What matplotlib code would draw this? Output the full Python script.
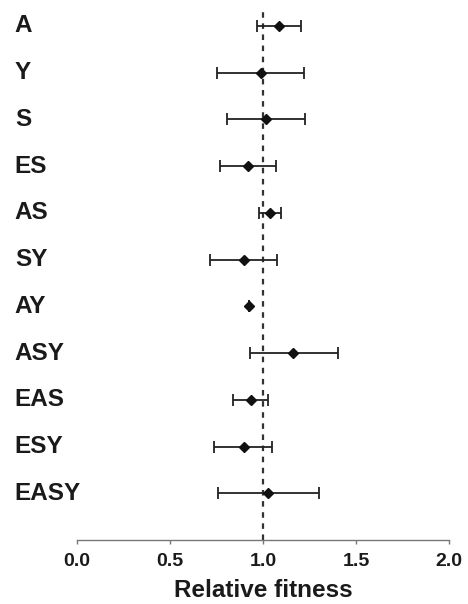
import matplotlib
matplotlib.use("Agg")
import matplotlib.pyplot as plt
import numpy as np

plt.rcParams['font.family'] = ['Liberation Sans', 'DejaVu Sans']

# dados
genotipos = ['A', 'Y', 'S', 'ES', 'AS', 'SY', 'AY', 'ASY', 'EAS', 'ESY', 'EASY']
fitness = [1.085, 0.987, 1.018, 0.919, 1.039, 0.896, 0.926, 1.162, 0.935, 0.896, 1.025]
limite_inf = [0.966, 0.752, 0.804, 0.770, 0.980, 0.713, 0.926, 0.928, 0.837, 0.738, 0.758]
limite_sup = [1.203, 1.221, 1.228, 1.072, 1.099, 1.077, 0.926, 1.406, 1.025, 1.047, 1.302]

fitness = np.array(fitness)
erro = [fitness - np.array(limite_inf), np.array(limite_sup) - fitness]
pos_y = np.arange(len(genotipos), 0, -1)

fig = plt.figure(figsize=(4.68, 6.04), dpi=100)
ax = fig.add_axes([0.165, 0.106, 0.794, 0.8808])

ax.axvline(1.0, color='#333333', linestyle=(0, (2.5, 2.5)), linewidth=1.6, zorder=1)
ax.errorbar(fitness, pos_y, xerr=erro, fmt='D', color='#111111', ecolor='#222222',
            markersize=5, elinewidth=1.3, capsize=4, capthick=1.3, zorder=3)

for y, g in zip(pos_y, genotipos):
    ax.text(-0.168, y, g, transform=ax.get_yaxis_transform(), ha='left', va='center',
            fontsize=17.5, fontweight='bold', color='#1a1a1a')

ax.set_xlim(0, 2)
ax.set_ylim(0, 11.385)
ax.set_xticks([0.0, 0.5, 1.0, 1.5, 2.0])
ax.set_xticklabels(['0.0', '0.5', '1.0', '1.5', '2.0'], fontsize=14, fontweight='bold')
ax.set_yticks([])
ax.tick_params(axis='x', direction='out', length=3, width=1, color='#777777', pad=6.5,
               labelcolor='#1a1a1a')
ax.set_xlabel('Relative fitness', fontsize=17.5, fontweight='bold', color='#1a1a1a', labelpad=6)

for lado in ['top', 'right', 'left']:
    ax.spines[lado].set_visible(False)
ax.spines['bottom'].set_color('#777777')
ax.spines['bottom'].set_linewidth(1)

plt.savefig('out.png', dpi=100)
